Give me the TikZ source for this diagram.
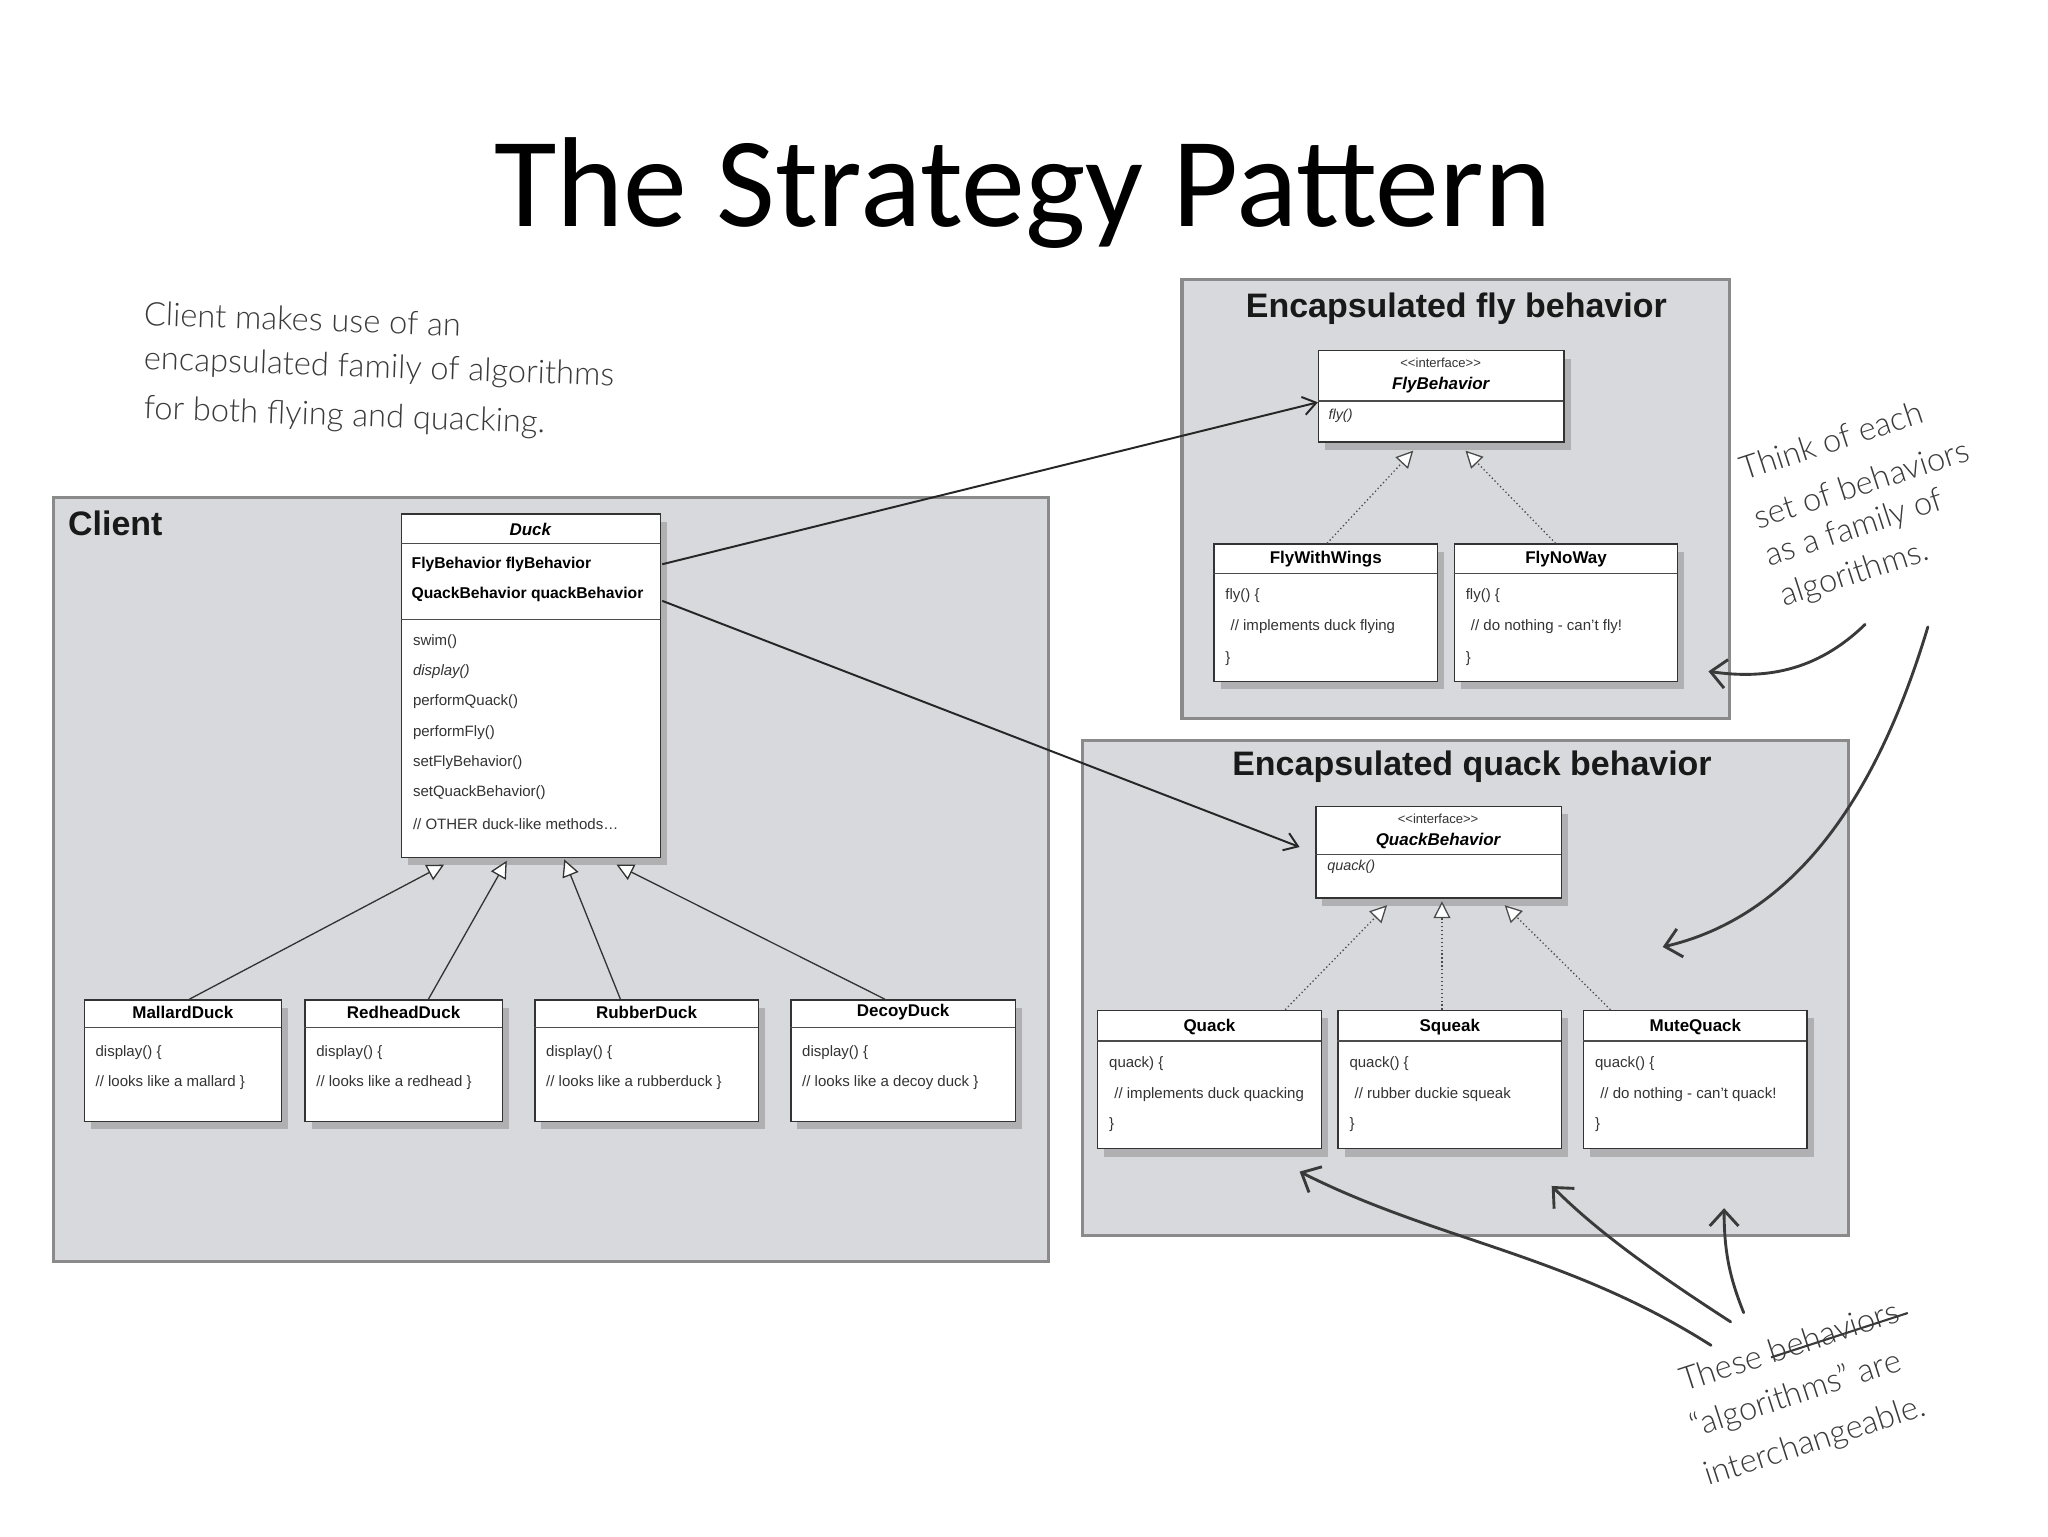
\documentclass[tikz,border=0pt]{standalone}
\usepackage{fontspec}
\setmainfont{Liberation Sans}
\newfontfamily\titlefont{Carlito}
\newfontfamily\handfont{Lato Light}
\usetikzlibrary{arrows.meta,shadows,calc}
\definecolor{panel}{HTML}{D8D9DC}
\definecolor{panelline}{HTML}{8A8A8A}
\definecolor{ink}{HTML}{3A3A3A}
\tikzset{
  panelbox/.style={draw=panelline,line width=2.5pt,fill=panel},
  cls/.style={draw=black!80,line width=1pt,fill=white,drop shadow={shadow xshift=5pt,shadow yshift=-6pt,opacity=0.45},anchor=north west,inner sep=0pt},
  sep/.style={draw=black!70,line width=0.8pt},
  hdr/.style={font=\fontsize{13}{14}\selectfont\bfseries,inner sep=0pt},
  txt/.style={font=\fontsize{11.5}{13}\selectfont,inner sep=0pt,anchor=west,text=black!80},
  inh/.style={draw=black!80,line width=1pt,-{Triangle[open,fill=white,length=13pt,width=13pt]}},
  impl/.style={draw=black!70,line width=1pt,dotted,-{Triangle[open,fill=white,length=13pt,width=13pt]}},
  assoc/.style={draw=black!85,line width=1.5pt,-{Straight Barb[length=10pt,width=14pt]}},
  hand/.style={font=\handfont\fontsize{25}{34}\selectfont,text=ink,inner sep=0pt},
  handarrow/.style={draw=ink,line width=2.2pt,line cap=round,-{Straight Barb[length=12pt,width=22pt]}},
  ptitle/.style={font=\fontsize{26}{28}\selectfont\bfseries,inner sep=0pt,text=black!90}
}
\begin{document}
\begin{tikzpicture}[x=1pt,y=-1pt]
\useasboundingbox[fill=white] (0,0) rectangle (1568,1176);
\node[font=\titlefont\fontsize{98}{100}\selectfont,inner sep=0pt] (title) at (783,148) {The Strategy Pattern};

% panels
\draw[panelbox] (41,381) rectangle (803,966);
\node[ptitle,anchor=west] (clientlbl) at (52,401) {Client};
\draw[panelbox] (905,214) rectangle (1324,550);
\node[ptitle] (flylbl) at (1115,236) {Encapsulated fly behavior};
\draw[panelbox] (829,567) rectangle (1415,946);
\node[ptitle] (quacklbl) at (1127,587) {Encapsulated quack behavior};

% Duck
\node[cls,minimum width=198pt,minimum height=263pt] (duck) at (307,393) {};
\draw[sep] (307,416) -- (505,416);
\draw[sep] (307,474) -- (505,474);
\node[hdr,font=\fontsize{13}{14}\selectfont\bfseries\itshape] (duckh) at (406,405) {Duck};
\foreach \t/\y in {FlyBehavior flyBehavior/432, QuackBehavior quackBehavior/455}
  \node[txt,font=\fontsize{12}{13}\selectfont\bfseries,text=black] at (315,\y) {\t};
\foreach \t/\y in {swim()/491, \textit{display()}/514, performQuack()/537, performFly()/561, setFlyBehavior()/584, setQuackBehavior()/607, {// OTHER duck-like methods\ldots}/631}
  \node[txt] at (316,\y) {\t};
\coordinate (flyattr) at (507,432);
\coordinate (quackattr) at (507,460);

% subclasses
\foreach \n/\x/\w/\name/\line in {mallard/64/151/MallardDuck/a mallard, redhead/233/151/RedheadDuck/a redhead, rubber/409/171/RubberDuck/a rubberduck, decoy/605/172/DecoyDuck/a decoy duck}{
  \node[cls,minimum width=\w pt,minimum height=93pt] (\n) at (\x,765) {};
  \draw[sep] (\x,787) -- ++(\w,0);
  \node[hdr] at ($(\n.north)+(0,10)$) {\name};
  \node[txt] at (\x+9,806) {display() \{};
  \node[txt] at (\x+9,829) {// looks like \line\ \}};
}
\coordinate (d1) at (340,662);
\coordinate (d2) at (388,659);
\coordinate (d3) at (432,658);
\coordinate (d4) at (472,662);
\draw[inh] ($(mallard.north)+(5,0)$) -- (d1);
\draw[inh] ($(redhead.north)+(19,0)$) -- (d2);
\draw[inh] ($(rubber.north)-(20,0)$) -- (d3);
\draw[inh] ($(decoy.north)-(14,0)$) -- (d4);

% FlyBehavior
\node[cls,minimum width=188pt,minimum height=70pt] (flyb) at (1009,268) {};
\draw[sep] (1009,307) -- (1197,307);
\node[txt,anchor=center,font=\fontsize{10}{11}\selectfont] at (1103,278) {{<}{<}interface{>}{>}};
\node[hdr,font=\fontsize{13}{14}\selectfont\bfseries\itshape] at (1103,295) {FlyBehavior};
\node[txt,font=\fontsize{11}{12}\selectfont\itshape] at (1017,318) {fly()};
\foreach \n/\x/\name/\line in {wings/929/FlyWithWings/implements duck flying, noway/1113/FlyNoWay/do nothing - can't fly!}{
  \node[cls,minimum width=171pt,minimum height=105pt] (\n) at (\x,416) {};
  \draw[sep] (\x,439) -- ++(171,0);
  \node[hdr] at ($(\n.north)+(0,12)$) {\name};
  \node[txt] at (\x+9,456) {fly() \{};
  \node[txt] at (\x+13,480) {// \line};
  \node[txt] at (\x+9,504) {\}};
}
\coordinate (f1) at (1082,345);
\coordinate (f2) at (1122,345);
\draw[impl] ($(wings.north)+(1,0)$) -- (f1);
\draw[impl] ($(noway.north)-(8,0)$) -- (f2);

% QuackBehavior
\node[cls,minimum width=188pt,minimum height=70pt] (quackb) at (1007,617) {};
\draw[sep] (1007,654) -- (1195,654);
\node[txt,anchor=center,font=\fontsize{10}{11}\selectfont] at (1101,627) {{<}{<}interface{>}{>}};
\node[hdr,font=\fontsize{13}{14}\selectfont\bfseries\itshape] at (1101,644) {QuackBehavior};
\node[txt,font=\fontsize{11}{12}\selectfont\itshape] at (1016,664) {quack()};
\foreach \n/\x/\name/\head/\line in {quack/840/Quack/quack) \{/implements duck quacking, squeak/1024/Squeak/quack() \{/rubber duckie squeak, mute/1212/MuteQuack/quack() \{/do nothing - can't quack!}{
  \node[cls,minimum width=171pt,minimum height=106pt] (\n) at (\x,773) {};
  \draw[sep] (\x,797) -- ++(171,0);
  \node[hdr] at ($(\n.north)+(0,13)$) {\name};
  \node[txt] at (\x+9,814) {\head};
  \node[txt] at (\x+13,838) {// \line};
  \node[txt] at (\x+9,861) {\}};
}
\coordinate (q1) at (1062,693);
\coordinate (q2) at (1104,690);
\coordinate (q3) at (1152,693);
\draw[impl] ($(quack.north)+(58,0)$) -- (q1);
\draw[impl] (squeak.north -| q2) -- (q2);
\draw[impl] ($(mute.north)-(65,0)$) -- (q3);

% associations
\draw[assoc] (flyattr) -- (flyb.west |- 0,308);
\draw[assoc] (quackattr) -- ($(quackb.west)+(-12,-4)$);

% handwritten notes
\node[hand,anchor=west,rotate=-2] (n1a) at (110,240) {Client makes use of an};
\node[hand,anchor=west,rotate=-2] (n1b) at (110,276) {encapsulated family of algorithms};
\node[hand,anchor=west,rotate=-2] (n1c) at (110,314) {for both flying and quacking.};
\node[hand,rotate=18] (n2a) at (1402,337) {Think of each};
\node[hand,rotate=18] (n2b) at (1425,370) {set of behaviors};
\node[hand,rotate=18] (n2c) at (1420,405) {as a family of};
\node[hand,rotate=18] (n2d) at (1420,440) {algorithms.};
\node[hand,rotate=18] (n3a) at (1370,1030) {These \rlap{\raisebox{0.3ex}{\rule{110pt}{1.6pt}}}behaviors};
\node[hand,rotate=18] (n3b) at (1375,1068) {“algorithms” are};
\node[hand,rotate=18] (n3c) at (1390,1104) {interchangeable.};
\coordinate (h1) at (1428,478);
\coordinate (h2) at (1476,480);
\coordinate (h1end) at (1308,514);
\draw[handarrow] (h1) .. controls (1390,515) and (1350,520) .. (h1end);
\draw[handarrow] (h2) .. controls (1440,600) and (1380,700) .. (1273,725);
\coordinate (b1) at (1310,1030);
\coordinate (b2) at (1325,1012);
\coordinate (b3) at (1335,1005);
\draw[handarrow] (b1) .. controls (1200,960) and (1100,950) .. (995,897);
\draw[handarrow] (b2) .. controls (1260,970) and (1220,940) .. (1188,908);
\draw[handarrow] (b3) .. controls (1325,980) and (1320,960) .. (1320,925);
\end{tikzpicture}
\end{document}
